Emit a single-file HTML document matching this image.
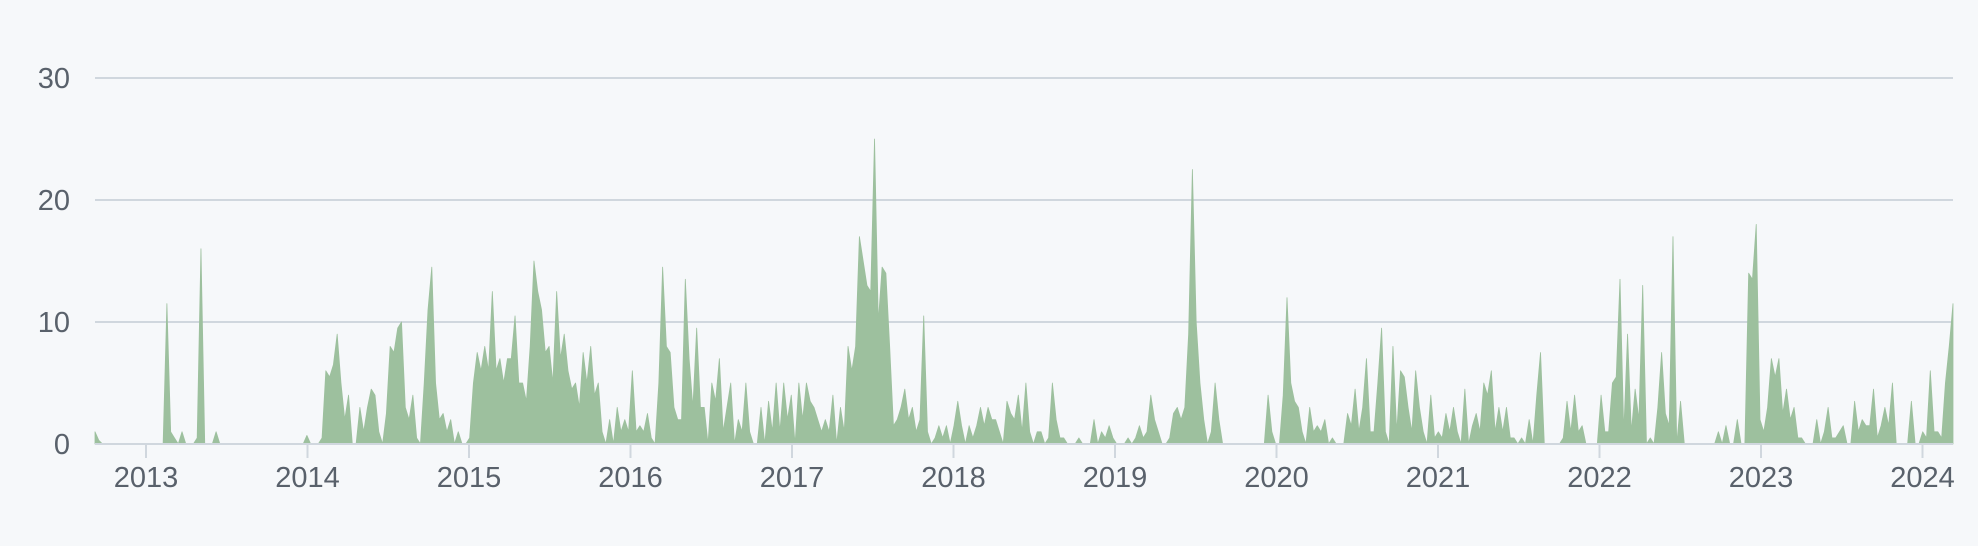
<!DOCTYPE html>
<html><head><meta charset="utf-8"><style>
html,body{margin:0;padding:0;background:#f6f8fa;}
svg{display:block;}
text{font-family:"Liberation Sans",sans-serif;fill:#59616b;}
</style></head><body>
<svg id="chart" width="1978" height="546" viewBox="0 0 1978 546" xmlns="http://www.w3.org/2000/svg">
<rect x="0" y="0" width="1978" height="546" fill="#f6f8fa"/>
<g id="grid"></g>
<g id="series"></g>
<g id="yaxis"></g>
<g id="xaxis"></g>
</svg>
<script>
const yTicks = [0, 10, 20, 30];
const yearLabels = ["2013","2014","2015","2016","2017","2018","2019","2020","2021","2022","2023","2024"];
const commits = [
1,0.3,0,0,0,0,0,0,0,0, 0,0,0,0,0,0,0,0,0,11.5, 1,0.5,0,1,0,0,0,0.5,16,0, 0,0,1,0,0,0,0,0,0,0,
0,0,0,0,0,0,0,0,0,0, 0,0,0,0,0,0,0.7,0,0,0, 0.5,6,5.5,6.5,9,5,2,4,0,0, 3,1,3,4.5,4,1,0,2.5,8,7.5,
9.5,10,3,2,4,0.5,0,5,11,14.5, 5,2,2.5,1,2,0,1,0,0,0.5, 5,7.5,6,8,6,12.5,6,7,5,7, 7,10.5,5,5,3.5,8,15,12.5,11,7.5,
8,5,12.5,7,9,6,4.5,5,3,7.5, 5,8,4,5,1,0,2,0,3,1, 2,1,6,1,1.5,1,2.5,0.5,0,5, 14.5,8,7.5,3,2,2,13.5,7,3,9.5,
3,3,0,5,3.5,7,1,3,5,0, 2,1,5,1,0,0,3,0,3.5,1, 5,1,5,2,4,0,5,2,5,3.5, 3,2,1,2,1,4,0,3,1,8,
6,8,17,15,13,12.5,25,10,14.5,14, 8,1.5,2,3,4.5,2,3,1,2,10.5, 1,0,0.5,1.5,0.5,1.5,0,1.5,3.5,1.5, 0,1.5,0.5,1.5,3,1.5,3,2,2,1, 0,3.5,2.5,2,4,1,5,1,0,1,
1,0,0.5,5,2,0.5,0.5,0,0,0, 0.5,0,0,0,2,0,1,0.5,1.5,0.5, 0,0,0,0.5,0,0.5,1.5,0.5,1,4, 2,1,0,0,0.5,2.5,3,2,3,9, 22.5,10,5,2,0,1,5,2,0,0,
0,0,0,0,0,0,0,0,0,0, 4,1,0,0,4,12,5,3.5,3,1, 0,3,1,1.5,1,2,0,0.5,0,0, 0,2.5,1.5,4.5,1,3,7,1,1,5, 9.5,1,0,8,1,6,5.5,3,1,6,
3,1,0,4,0.5,1,0.5,2.5,1,3, 1,0,4.5,0,1.5,2.5,1,5,4,6, 1,3,1,3,0.5,0.5,0,0.5,0,2, 0,4,7.5,0,0,0,0,0,0.5,3.5, 1,4,1,1.5,0,0,0,0,4,1,
1,5,5.5,13.5,1,9,1,4.5,2,13, 0,0.5,0,3,7.5,2.5,1.5,17,0,3.5, 0,0,0,0,0,0,0,0,0,1, 0,1.5,0,0,2,0,0,14,13.5,18, 2,1,3,7,5.5,7,2.5,4.5,2,3,
0.5,0.5,0,0,0,2,0,1,3,0.5, 0.5,1,1.5,0,0,3.5,1,2,1.5,1.5, 4.5,0.5,1.5,3,1.5,5,0,0,0,0, 3.5,0,0,1,0.5,6,1,1,0.5,5, 8,11.5
];

const NS = "http://www.w3.org/2000/svg";
const X0 = 95, X1 = 1953, Y0 = 444, PX_PER_UNIT = 12.2;
const yearX0 = 146, yearStep = 161.5;
function xScale(i){ return X0 + (X1 - X0) * i / (commits.length - 1); }
function yScale(v){ return Y0 - v * PX_PER_UNIT; }
function yearScale(j){ return yearX0 + j * yearStep; }
function mk(tag, attrs){ const e = document.createElementNS(NS, tag); for (const k in attrs) e.setAttribute(k, attrs[k]); return e; }

const grid = document.getElementById('grid');
const yaxis = document.getElementById('yaxis');
yTicks.forEach(t => {
  const y = yScale(t);
  if (t > 0) {
    const l = mk('line', {x1: X0, x2: X1, y1: y, y2: y, stroke: '#d0d7de', 'stroke-width': 2});
    
    
    grid.appendChild(l);
  }
  const tx = mk('text', {x: 70, y: y + 10, 'font-size': 29, 'text-anchor': 'end'});
  tx.textContent = String(t);
  
  
  yaxis.appendChild(tx);
});

const series = document.getElementById('series');
let d = 'M' + xScale(0) + ',' + Y0;
commits.forEach((v, i) => { d += ' L' + xScale(i).toFixed(2) + ',' + yScale(v).toFixed(2); });
d += ' L' + xScale(commits.length - 1) + ',' + Y0 + ' Z';
const area = mk('path', {d: d, fill: '#9dc09e', stroke: '#9dc09e', 'stroke-width': 0.8, 'stroke-linejoin': 'round'});


series.appendChild(area);

const xaxis = document.getElementById('xaxis');
const base = mk('line', {x1: X0, x2: X1, y1: Y0, y2: Y0, stroke: '#d0d7de', 'stroke-width': 2});


xaxis.appendChild(base);
yearLabels.forEach((lab, j) => {
  const x = yearScale(j);
  const tk = mk('line', {x1: x, x2: x, y1: Y0, y2: Y0 + 14, stroke: '#d0d7de', 'stroke-width': 2});
  
  
  xaxis.appendChild(tk);
  const tx = mk('text', {x: x, y: 487, 'font-size': 29, 'text-anchor': 'middle'});
  tx.textContent = lab;
  
  
  xaxis.appendChild(tx);
});
</script>
</body></html>
